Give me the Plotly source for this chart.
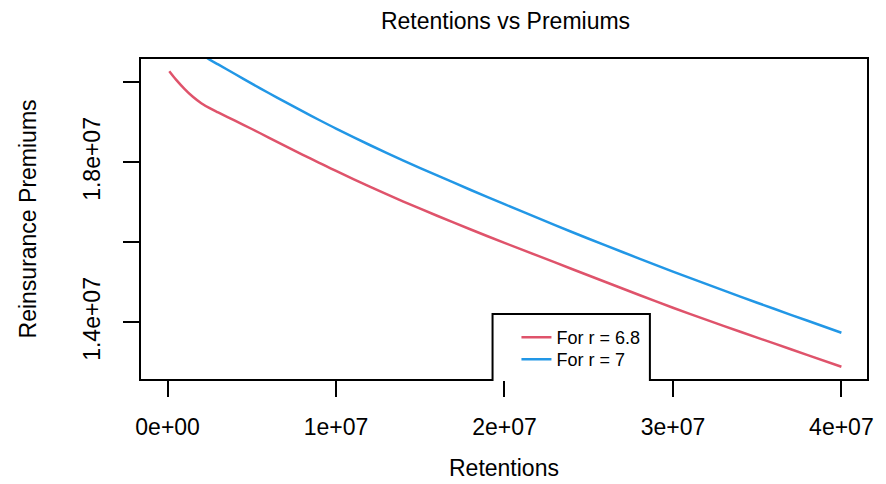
import plotly.graph_objects as go

# Retention values (millions) and reinsurance premiums (millions)
red_x = [0.1, 0.5, 1.0, 1.5, 2.0, 2.5, 3, 4, 5, 6, 7, 8, 9, 10, 12, 14, 16, 18, 20,
         22, 24, 26, 28, 30, 32, 34, 36, 38, 40]
red_y = [20.28, 20.07, 19.84, 19.64, 19.48, 19.355, 19.25, 19.045, 18.835, 18.622, 18.409,
         18.196, 17.991, 17.786, 17.396, 17.022, 16.666, 16.322, 15.988, 15.662, 15.336,
         15.01, 14.686, 14.366, 14.062, 13.766, 13.474, 13.182, 12.89]

blue_x = [0.1, 0.5, 1.0, 1.5, 2.0, 2.5, 3, 4, 5, 6, 7, 8, 9, 10, 12, 14, 16, 18, 20,
          22, 24, 26, 28, 30, 32, 34, 36, 38, 40]
blue_y = [21.49, 21.27, 21.05, 20.86, 20.71, 20.57, 20.45, 20.21, 19.97, 19.735, 19.505,
          19.28, 19.06, 18.845, 18.435, 18.045, 17.675, 17.31, 16.955, 16.605, 16.26,
          15.925, 15.595, 15.27, 14.955, 14.645, 14.34, 14.04, 13.74]

series_names = ["For r = 6.8", "For r = 7"]
series_colors = ["#DF536B", "#2297E6"]

x_tickvals = [0, 1e7, 2e7, 3e7, 4e7]
x_ticktext = ["0e+00", "1e+07", "2e+07", "3e+07", "4e+07"]
y_tickvals = [1.4e7, 1.6e7, 1.8e7, 2.0e7]
y_ticktext = ["1.4e+07", "", "1.8e+07", ""]

FONT = "Liberation Sans, Arial, sans-serif"

# page body has an 8px margin; work in screen pixels and convert
OFF = 8
W, H = 886 - OFF, 484 - OFF
BOX_L, BOX_R, BOX_T, BOX_B = 141, 870, 59, 379  # plot box in screen pixels
L = BOX_L - OFF
T = BOX_T - OFF
R = W - (BOX_R - OFF)
B = H - (BOX_B - OFF)
pw = W - L - R
ph = H - T - B

def px(xs):
    return (xs - BOX_L) / pw

def py(ys):
    return (BOX_B - ys) / ph

fig = go.Figure()
for i, (xs, ys) in enumerate([(red_x, red_y), (blue_x, blue_y)]):
    fig.add_trace(go.Scatter(
        x=[v * 1e6 for v in xs], y=[v * 1e6 for v in ys], mode="lines",
        name=series_names[i], legend="legend" if i == 0 else "legend2",
        line=dict(color=series_colors[i], width=2.5, shape="spline", smoothing=0.8)))

leg_common = dict(xanchor="left", yanchor="top", bgcolor="rgba(0,0,0,0)", borderwidth=0,
                  font=dict(size=18, family=FONT, color="black"), itemwidth=30)

fig.update_layout(
    width=W, height=H,
    margin=dict(l=L, r=R, t=T, b=B),
    paper_bgcolor="white", plot_bgcolor="white",
    font=dict(family=FONT, color="black"),
    title=dict(text="Retentions vs Premiums", x=(L + pw / 2) / W, xanchor="center",
               y=1 - (21 - OFF) / H, yanchor="middle", yref="container",
               font=dict(size=23, family=FONT, color="black")),
    showlegend=True,
    legend=dict(x=px(518), y=py(338 - 19), **leg_common),
    legend2=dict(x=px(518), y=py(360 - 19), **leg_common),
    xaxis=dict(range=[-1.5785e6, 4.152e7], showgrid=False, zeroline=False,
               showline=True, mirror=True, linecolor="black", linewidth=2,
               ticks="outside", ticklen=16, tickwidth=2, tickcolor="black",
               tickvals=x_tickvals, ticktext=x_ticktext, ticklabelstandoff=10,
               tickfont=dict(size=23, family=FONT, color="black")),
    yaxis=dict(range=[1.2585e7, 2.0585e7], showgrid=False, zeroline=False,
               showline=True, mirror=True, linecolor="black", linewidth=2,
               ticks="outside", ticklen=16, tickwidth=2, tickcolor="black",
               tickvals=y_tickvals, ticktext=y_ticktext, tickangle=-90,
               ticklabelstandoff=14,
               tickfont=dict(size=23, family=FONT, color="black")),
    annotations=[
        dict(text="Retentions", xref="paper", yref="paper", x=0.5, y=py(468),
             xanchor="center", yanchor="middle", showarrow=False,
             font=dict(size=23, family=FONT, color="black")),
        dict(text="Reinsurance Premiums", xref="paper", yref="paper", x=px(28), y=0.5,
             xanchor="center", yanchor="middle", showarrow=False, textangle=-90,
             font=dict(size=23, family=FONT, color="black")),
    ],
    shapes=[
        # white patch hiding the box bottom edge beneath the (clipped) legend
        dict(type="rect", xref="paper", yref="paper", x0=px(495), x1=px(651),
             y0=py(381), y1=py(377), fillcolor="white", line=dict(width=0), layer="above"),
        # legend frame (bottom edge clipped at plot region)
        dict(type="path", xref="paper", yref="paper",
             path=f"M {px(494)} {py(379)} L {px(494)} {py(314)} L {px(652)} {py(314)} L {px(652)} {py(379)}",
             line=dict(color="black", width=2), layer="above"),
    ],
)

fig.write_html("out.html")
